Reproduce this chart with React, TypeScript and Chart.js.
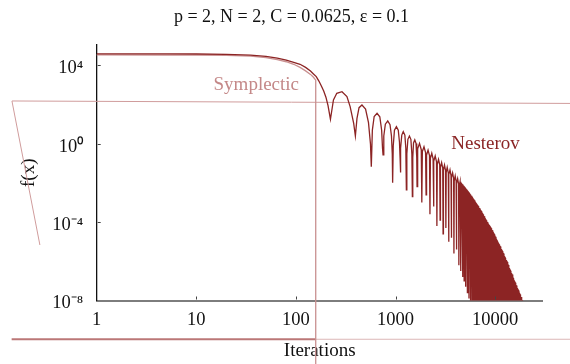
import React, { useEffect, useRef } from 'react';
import { Chart, registerables } from 'chart.js';

Chart.register(...registerables);

const FONT = '"Liberation Serif", "Times New Roman", serif';

const TITLE = 'p = 2, N = 2, C = 0.0625, ε = 0.1';
const X_TITLE = 'Iterations';
const Y_TITLE = 'f(x)';

const xTickValues = [1, 10, 100, 1000, 10000];
const xTickLabels = ['1', '10', '100', '1000', '10000'];
const yTickValues = [1e-8, 1e-4, 1, 1e4];
const yTickLabels = ['10⁻⁸', '10⁻⁴', '10⁰', '10⁴'];

// Nesterov: plateau, drop, bounces, then the dense oscillating band
const nesterovIter = [
  1, 5, 10, 20, 35, 50, 65, 80, 95, 110, 125, 140, 150, 160, 170, 180, 190, 200, 210, 222,
  238, 257, 290, 325, 350, 380, 395,
  410, 430, 460, 500, 535, 560, 571,
  585, 610, 652, 695, 725, 740, 749,
  762, 790, 835, 880, 910, 927, 935,
  948, 975, 1020, 1065, 1095, 1110, 1117,
  1130, 1155, 1195, 1240, 1268, 1284,
  1298, 1330, 1378, 1425, 1458, 1475,
  1489, 1515, 1560, 1605, 1632, 1644,
  1667, 1740, 1812, 1835,
  1858, 1930, 2002, 2025,
  2048, 2120, 2192, 2215,
  2238, 2310, 2382, 2405,
  2428, 2500, 2577, 2600,
  2624, 2700, 2776, 2800,
  2824, 2900, 2976, 3000,
  3024, 3100, 3176, 3200,
  3225, 3300, 3385, 3410,
  3436, 3520, 3604, 3630,
  3657, 3740, 3828, 3855,
  3883, 3970, 4057, 4085,
  4113, 4200, 4292, 4320,
  4345, 4440, 4500, 4525,
  4578, 4648, 4700, 4754, 4826, 4880, 4934, 5006, 5060, 5120, 5200, 5260,
  5320, 5400, 5460, 5522, 5604, 5665, 5730, 5816, 5880, 5948, 6038, 6105,
  6176, 6270, 6340, 6412, 6508, 6580, 6655, 6755, 6830, 6908, 7012, 7090,
  7171, 7279, 7360, 7444, 7556, 7640, 7727, 7843, 7930, 8020, 8140, 8230,
  8323, 8447, 8540, 8638, 8768, 8865, 8966, 9100, 9200, 9305, 9445, 9550,
  9660, 9806, 9915, 10028, 10178, 10290, 10407, 10563, 10680, 10802, 10964, 11085,
  11211, 11379, 11505, 11636, 11810, 11940, 12075, 12255, 12390, 12531, 12719, 12860,
  13007, 13203, 13350, 13503, 13707, 13860, 14018, 14228, 14385, 14547, 14763, 14925,
  15095, 15321, 15490, 15667, 15903, 16080, 16263, 16507, 16690, 16879, 17131, 17320,
  17515, 17775, 17970, 18174, 18446, 18650, 18875, 19175, 19400,
];
const nesterovF = [
  39000, 38900, 38500, 37000, 34000, 29000, 23500, 18500, 14500, 11500, 8000, 5200, 3700, 2700, 1600, 900, 500, 240, 90, 18,
  174, 380, 459, 257, 80, 11, 2.5,
  20, 70, 96, 60, 12, 1, 0.068,
  5, 25, 36, 24, 5, 0.6, 0.27,
  2.5, 10, 14.7, 9.5, 2.5, 0.3, 0.0103,
  0.8, 5, 7.5, 5, 1.2, 0.2, 0.034,
  0.6, 2.8, 4.2, 2.8, 0.6, 0.0044,
  0.3, 1.7, 2.5, 1.7, 0.3, 0.002,
  0.2, 1.1, 1.58, 1.05, 0.2, 0.0065,
  0.55, 1.05, 0.5, 1e-3,
  0.4, 0.71, 0.36, 2.5e-3,
  0.27, 0.48, 0.25, 2.5e-4,
  0.18, 0.33, 0.17, 6.3e-4,
  0.13, 0.24, 0.12, 6.3e-5,
  0.09, 0.16, 0.085, 1.26e-4,
  0.062, 0.11, 0.058, 2.5e-5,
  0.046, 0.083, 0.043, 5e-5,
  0.035, 0.063, 0.032, 1e-5,
  0.027, 0.047, 0.024, 1.6e-5,
  0.019, 0.033, 0.017, 2.5e-6,
  0.013, 0.023, 0.012, 4e-6,
  0.0095, 0.0166, 0.0088, 6.3e-7,
  0.0068, 0.0117, 0.0064, 3.2e-7,
  9.5e-3, 8.7e-3, 1.6e-7, 7.5e-3, 6.9e-3, 1e-7, 6.1e-3, 5.6e-3, 5e-8, 4.7e-3, 4.3e-3, 2.5e-8,
  3.7e-3, 3.35e-3, 1.26e-8, 2.9e-3, 2.6e-3, 6.3e-9, 2.2e-3, 2.0e-3, 1e-11, 1.7e-3, 1.5e-3, 1e-11,
  1.26e-3, 1.14e-3, 1e-11, 9.4e-4, 8.5e-4, 1e-11, 7.2e-4, 6.5e-4, 1e-11, 5.3e-4, 4.7e-4, 1e-11,
  3.9e-4, 3.5e-4, 1e-11, 2.8e-4, 2.45e-4, 1e-11, 1.98e-4, 1.75e-4, 1e-11, 1.38e-4, 1.22e-4, 1e-11,
  9.9e-5, 8.8e-5, 1e-11, 7.2e-5, 6.4e-5, 1e-11, 5.5e-5, 4.9e-5, 1e-11, 3.9e-5, 3.5e-5, 1e-11,
  2.7e-5, 2.35e-5, 1e-11, 1.78e-5, 1.55e-5, 1e-11, 1.2e-5, 1.05e-5, 1e-11, 8.1e-6, 7.1e-6, 1e-11,
  5.8e-6, 5.0e-6, 1e-11, 3.8e-6, 3.3e-6, 1e-11, 2.5e-6, 2.15e-6, 1e-11, 1.6e-6, 1.4e-6, 1e-11,
  1.05e-6, 9.2e-7, 1e-11, 6.5e-7, 5.6e-7, 1e-11, 3.9e-7, 3.35e-7, 1e-11, 2.5e-7, 2.15e-7, 1e-11,
  1.5e-7, 1.3e-7, 1e-11, 9.3e-8, 8.1e-8, 1e-11, 5.8e-8, 5e-8, 1e-11, 3.75e-8, 3.25e-8, 1e-11,
  2.35e-8, 2.05e-8, 1e-11, 1.5e-8, 1.3e-8, 1e-11, 9.5e-9, 8.2e-9, 1e-11,
];

// Symplectic: plateau, then falls straight off the bottom
const symplecticIter = [1, 5, 10, 20, 35, 50, 65, 80, 95, 110, 125, 140, 150, 155, 158, 158];
const symplecticF = [34500, 34300, 34000, 32500, 30000, 25000, 20000, 15500, 11500, 8000, 5300, 3500, 2500, 2000, 1800, 1e-12];

// stray leader strokes of the reference drawing
const guideTopIter = [64000, 0.141];
const guideTopF = [115, 154];
const guideDiagIter = [0.269, 0.141];
const guideDiagF = [6.8e-6, 154];
const guideBottomLeftIter = [158, 0.14];
const guideBottomLeftF = [1.05e-10, 1.05e-10];
const guideBottomRightIter = [64000, 158];
const guideBottomRightF = [1.05e-10, 1.05e-10];

const seriesNames = ['Symplectic', 'Nesterov'];
const seriesLabelIter = [40, 8000];
const seriesLabelF = [1000, 1];
const seriesLabelColors = ['#c48888', '#8b2525'];

const toPts = (xs: number[], ys: number[]) => xs.map((x, i) => ({ x, y: ys[i] }));

const decor = {
  id: 'decor',
  afterDatasetsDraw(chart: any) {
    const { ctx, chartArea } = chart;
    const xs = chart.scales.x;
    const ys = chart.scales.y;
    ctx.save();
    ctx.strokeStyle = '#444';
    ctx.lineWidth = 1;
    xTickValues.forEach((v) => {
      if (v <= xs.min) return;
      const px = Math.round(xs.getPixelForValue(v)) + 0.5;
      ctx.beginPath();
      ctx.moveTo(px, chartArea.bottom - 1);
      ctx.lineTo(px, chartArea.bottom - 4);
      ctx.stroke();
    });
    yTickValues.forEach((v) => {
      if (v <= ys.min) return;
      const py = Math.round(ys.getPixelForValue(v)) + 0.5;
      ctx.beginPath();
      ctx.moveTo(chartArea.left + 1, py);
      ctx.lineTo(chartArea.left + 4, py);
      ctx.stroke();
    });
    ctx.font = '19px ' + FONT;
    ctx.textAlign = 'center';
    ctx.textBaseline = 'middle';
    seriesNames.forEach((name, i) => {
      ctx.fillStyle = seriesLabelColors[i];
      ctx.fillText(name, xs.getPixelForValue(seriesLabelIter[i]), ys.getPixelForValue(seriesLabelF[i]));
    });
    ctx.restore();
  },
};

export default function App() {
  const ref = useRef<HTMLCanvasElement | null>(null);
  useEffect(() => {
    document.body.style.margin = '0';
    const canvas = ref.current;
    if (!canvas) return;
    const guide = (xs: number[], ys: number[], color: string, w: number) => ({
      data: toPts(xs, ys),
      borderColor: color,
      borderWidth: w,
      pointRadius: 0,
      clip: false as any,
      order: 2,
    });
    const chart = new Chart(canvas, {
      type: 'line',
      data: {
        datasets: [
          {
            label: 'Nesterov',
            data: toPts(nesterovIter, nesterovF),
            borderColor: '#8c2424',
            borderWidth: 1.3,
            pointRadius: 0,
            clip: 0 as any,
            order: 0,
          },
          {
            label: 'Symplectic',
            data: toPts(symplecticIter, symplecticF),
            borderColor: '#c99090',
            borderWidth: 1.3,
            pointRadius: 0,
            clip: false as any,
            order: 1,
          },
          guide(guideTopIter, guideTopF, '#d09c9c', 1),
          guide(guideDiagIter, guideDiagF, '#d09c9c', 1),
          guide(guideBottomLeftIter, guideBottomLeftF, '#bb7777', 2),
          guide(guideBottomRightIter, guideBottomRightF, '#dcb6b6', 1),
        ],
      } as any,
      options: {
        responsive: false,
        animation: false,
        devicePixelRatio: 1,
        layout: { padding: { left: 13, right: 0, top: 0, bottom: 0 } },
        plugins: {
          legend: { display: false },
          tooltip: { enabled: false },
          title: {
            display: true,
            text: TITLE,
            color: '#111',
            font: { family: FONT, size: 18, weight: 'normal' },
            padding: { top: 6, bottom: 17.4 },
          },
        },
        scales: {
          x: {
            type: 'logarithmic',
            position: 'bottom',
            min: 1,
            max: 30000,
            grid: { display: false, drawTicks: false },
            border: { display: true, color: '#7d7d7d', width: 2 },
            ticks: {
              autoSkip: false,
              maxRotation: 0,
              padding: 8.7,
              color: '#111',
              font: { family: FONT, size: 18.5 },
              callback: (_v: any, i: number) => xTickLabels[i],
            },
            afterBuildTicks: (s: any) => {
              s.ticks = xTickValues.map((v) => ({ value: v }));
            },
            afterFit: (s: any) => {
              s.height = 63.5;
              s.paddingRight = 27.3;
            },
            title: {
              display: true,
              text: X_TITLE,
              color: '#111',
              font: { family: FONT, size: 19 },
              padding: { top: 0, bottom: 1.6 },
            },
          },
          y: {
            type: 'logarithmic',
            min: 1e-8,
            max: 1.11e5,
            grid: { display: false, drawTicks: false },
            border: { display: true, color: '#111', width: 1.3 },
            ticks: {
              autoSkip: false,
              padding: 13.5,
              labelOffset: 3,
              color: '#111',
              font: { family: FONT, size: 18.5 },
              callback: (_v: any, i: number) => yTickLabels[i],
            },
            afterBuildTicks: (s: any) => {
              s.ticks = yTickValues.map((v) => ({ value: v }));
            },
            afterFit: (s: any) => {
              s.width = 83.7;
            },
            title: {
              display: true,
              text: Y_TITLE,
              color: '#111',
              font: { family: FONT, size: 19 },
              padding: { top: 4.6, bottom: 0 },
            },
          },
        },
      } as any,
      plugins: [decor],
    });
    return () => chart.destroy();
  }, []);
  return (
    <div style={{ width: 570, height: 364 }}>
      <canvas ref={ref} width={570} height={364} style={{ display: 'block' }} />
    </div>
  );
}
